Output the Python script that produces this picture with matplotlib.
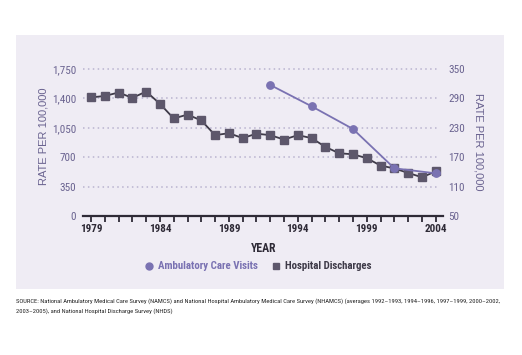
import matplotlib.pyplot as plt
from matplotlib.patches import Rectangle
from matplotlib import font_manager

# --- data ---
amb_years = [1992, 1995, 1998, 2001, 2004]
amb_rate = [1560, 1306, 1036, 568, 508]          # left axis

hosp_years = list(range(1979, 2005))
hosp_rate = [292, 295, 302, 291, 304, 279, 249, 257, 245, 215,
             219, 209, 218, 215, 206, 215, 209, 191, 178, 176,
             168, 153, 147, 138, 129, 141]         # right axis

left_ticks = [0, 350, 700, 1050, 1400, 1750]
right_ticks = [50, 110, 170, 230, 290, 350]
year_labels = [1979, 1984, 1989, 1994, 1999, 2004]

PANEL = "#EFECF4"
PURPLE = "#7A72B2"
SQUARE = "#5D576B"
LINE_DARK = "#3E3A48"
TICK_TXT = "#6A6390"
GRID = "#B9B3CF"

# narrow sans if one is installed
names = {f.name for f in font_manager.fontManager.ttflist}
candidates = ["Roboto Condensed", "Archivo Narrow", "PT Sans Narrow",
              "Liberation Sans Narrow", "Arial Narrow", "Fira Sans Condensed",
              "IBM Plex Sans Condensed", "Open Sans Condensed"]
narrow = next((c for c in candidates if c in names), "DejaVu Sans")
plt.rcParams["font.family"] = [narrow, "DejaVu Sans"]
WIDE = ["Liberation Sans", "DejaVu Sans"]

W, H = 522, 355
fig = plt.figure(figsize=(W / 100, H / 100), dpi=100)


def fx(px):
    return px / W


def fy(py):
    return 1 - py / H


fig.patches.append(Rectangle((fx(16), fy(289)), fx(488), 254 / H,
                             transform=fig.transFigure, facecolor=PANEL,
                             edgecolor="none", zorder=-5))

ax = fig.add_axes([fx(83), fy(216), fx(360), 147 / H])
ax2 = ax.twinx()
ax.set_zorder(ax2.get_zorder() + 1)
ax.patch.set_visible(False)
ax2.patch.set_visible(False)

ax.set_xlim(1978.42, 2004.53)
ax.set_ylim(0, 1750)
ax2.set_ylim(50, 350)

for y in left_ticks[1:]:
    ax2.plot([1978.42, 2004.1], [50 + y * 300 / 1750] * 2,
             linestyle=(0, (1, 2.2)), color=GRID,
             linewidth=1.1, zorder=1, clip_on=False)

ax2.plot(hosp_years, hosp_rate, color=LINE_DARK, linewidth=1.3,
         marker="s", markersize=5.5, markerfacecolor=SQUARE,
         markeredgecolor=SQUARE, clip_on=False, zorder=3,
         label="Hospital Discharges")
ax.plot(amb_years, amb_rate, color=PURPLE, linewidth=1.3,
        marker="o", markersize=5.3, markerfacecolor=PURPLE,
        markeredgecolor=PURPLE, clip_on=False, zorder=3,
        label="Ambulatory Care Visits")

for a in (ax, ax2):
    for s in ("top", "left", "right", "bottom"):
        a.spines[s].set_visible(False)
ax.spines["bottom"].set_visible(True)
ax.spines["bottom"].set_color("#2E2A36")
ax.spines["bottom"].set_linewidth(1.6)

ax.set_xticks(hosp_years)
ax.set_xticklabels([str(y) if y in year_labels else "" for y in hosp_years])
ax.tick_params(axis="x", direction="out", length=4, width=1.3,
               color="#2E2A36", labelsize=8, labelcolor="#2E2A36", pad=2)
for t in ax.get_xticklabels():
    t.set_fontweight("bold")

ax.set_yticks(left_ticks)
ax.set_yticklabels([f"{v:,}" for v in left_ticks])
ax.tick_params(axis="y", length=0, labelsize=8, labelcolor=TICK_TXT, pad=5)
ax2.set_yticks(right_ticks)
ax2.tick_params(axis="y", length=0, labelsize=8, labelcolor=TICK_TXT, pad=4)

fig.text(fx(43), fy(136), "RATE PER 100,000", rotation=90, ha="center",
         va="center", fontsize=8, color=TICK_TXT, family=WIDE)
fig.text(fx(479), fy(142), "RATE PER 100,000", rotation=270, ha="center",
         va="center", fontsize=8, color=TICK_TXT, family=WIDE)
fig.text(fx(264), fy(248), "YEAR", ha="center", va="center", fontsize=8.5,
         fontweight="bold", color="#2E2A36")

# legend
fig.lines.append(plt.Line2D([fx(149)], [fy(266)], marker="o", markersize=5,
                            color=PURPLE, transform=fig.transFigure))
fig.text(fx(158), fy(266), "Ambulatory Care Visits", ha="left", va="center",
         fontsize=7.8, fontweight="bold", color=PURPLE)
fig.lines.append(plt.Line2D([fx(276)], [fy(266)], marker="s", markersize=5,
                            color=SQUARE, transform=fig.transFigure))
fig.text(fx(285), fy(266), "Hospital Discharges", ha="left", va="center",
         fontsize=7.8, fontweight="bold", color="#3E3A48")

source = ("SOURCE: National Ambulatory Medical Care Survey (NAMCS) and National Hospital "
          "Ambulatory Medical Care Survey (NHAMCS) (averages 1992\u20131993, 1994\u20131996, "
          "1997\u20131999, 2000\u20132002,\n2003\u20132005), and National Hospital Discharge "
          "Survey (NHDS)")
src = fig.text(fx(16), fy(298), source, ha="left", va="top", fontsize=5.0,
               color="#222222", linespacing=2.0)

# shrink the source note so its first line ends at the panel edge
renderer = fig.canvas.get_renderer()
width = src.get_window_extent(renderer).width
if width > 487:
    src.set_fontsize(5.0 * 487 / width)

fig.savefig("out.png", dpi=100)
